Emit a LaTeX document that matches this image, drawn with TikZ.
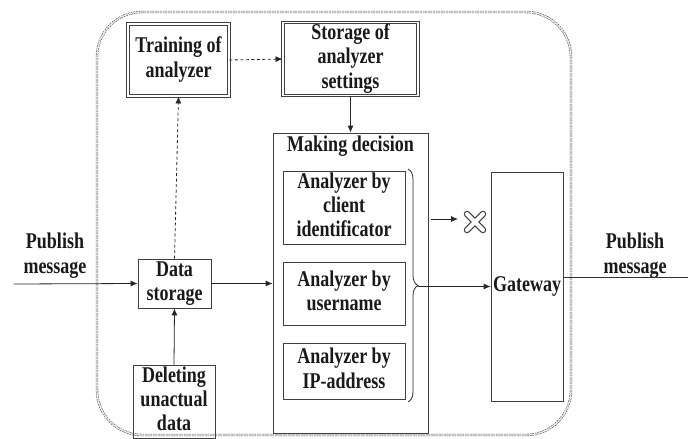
\documentclass[tikz,border=0pt]{standalone}
\usepackage{fontspec}
\setmainfont{Liberation Serif}
\usepackage{graphicx}
\usetikzlibrary{arrows.meta,decorations.pathreplacing,calc}
\newcommand{\tx}[1]{\scalebox{1}[1.25]{\fontsize{18}{19.5}\selectfont\bfseries\begin{tabular}{@{}c@{}}#1\end{tabular}}}
\begin{document}
\begin{tikzpicture}[x=1pt,y=-1pt,
  txt/.style={text=black!90, align=center, inner sep=0pt},
  box/.style={draw=black!75, line width=0.8pt, inner sep=0pt, txt},
  dbox/.style={box, double, double distance=1.3pt, line width=0.9pt},
  arr/.style={-{Latex[length=7pt,width=6pt]}, line width=0.8pt, draw=black!85},
  darr/.style={arr, dashed, dash pattern=on 3pt off 2.5pt}
]
\useasboundingbox (0,0) rectangle (688,439);
% outer boundary
\draw[black!70, double, double distance=1.2pt, line width=0.6pt, dash pattern=on 1.6pt off 1pt, rounded corners=45pt]
  (97,12) -- (571,12) -- (571,435) -- (97,435) -- cycle;

\node[dbox, minimum width=101pt, minimum height=72pt] (train) at (178.5,60) {\tx{Training of\\analyzer}};
\node[dbox, minimum width=135pt, minimum height=70pt] (store) at (350.5,59) {\tx{Storage of\\analyzer\\settings}};
\node[box, minimum width=73pt, minimum height=49pt] (data) at (174.5,283.5) {\tx{Data\\storage}};
\node[box, minimum width=82pt, minimum height=63pt] (del) at (174,401.5) {\tx{Deleting\\unactual\\data}};
\node[box, minimum width=155pt, minimum height=300pt] (make) at (350.5,283) {};
\node[txt] (maketitle) at (350.5,147) {\tx{Making decision}};
\node[box, minimum width=122pt, minimum height=67pt] (a1) at (344,207.5) {\tx{Analyzer by\\client\\identificator}};
\node[box, minimum width=122pt, minimum height=63pt] (a2) at (344,293.5) {\tx{Analyzer by\\username}};
\node[box, minimum width=122pt, minimum height=56pt] (a3) at (344,371) {\tx{Analyzer by\\IP-address}};
\node[box, minimum width=72pt, minimum height=229pt] (gate) at (527,286.5) {\tx{Gateway}};

\node[txt] (inlabel) at (55,256) {\tx{Publish\\message}};
\node[txt] (outlabel) at (635,256) {\tx{Publish\\message}};

\coordinate (inL) at (14,284);
\coordinate (outR) at (688,277);
\coordinate (bt) at (408,169);
\coordinate (bb) at (408,402);
\coordinate (btip) at (418,286.5);
\coordinate (xs) at (431,219);
\coordinate (xe) at (458,219);
\coordinate (xm) at (475,222);

\draw[arr] (inL) -- (data.west);
\draw[arr] (data.east) -- (data.east -| make.west);
\draw[arr] (del.north) -- (data.north |- data.south);
\draw[darr] (data.north) -- (train.south);
\draw[darr] (train.east) -- (store.west);
\draw[arr] (store.south) -- (store.south |- make.north);
\draw[black!85, line width=0.8pt, decorate, decoration={brace, amplitude=10pt}] (bt) -- (bb);
\draw[arr] (btip) -- (gate.west);
\draw[arr] (xs) -- (xe);
\draw[black!80, line width=0.8pt] (gate.east |- outR) -- (outR);
% X mark
\draw[black!75, line width=6.5pt, line cap=round] ($(xm)+(-8,-8)$) -- ($(xm)+(8,8)$) ($(xm)+(-8,8)$) -- ($(xm)+(8,-8)$);
\draw[white, line width=4pt, line cap=round] ($(xm)+(-8,-8)$) -- ($(xm)+(8,8)$) ($(xm)+(-8,8)$) -- ($(xm)+(8,-8)$);
\end{tikzpicture}
\end{document}
